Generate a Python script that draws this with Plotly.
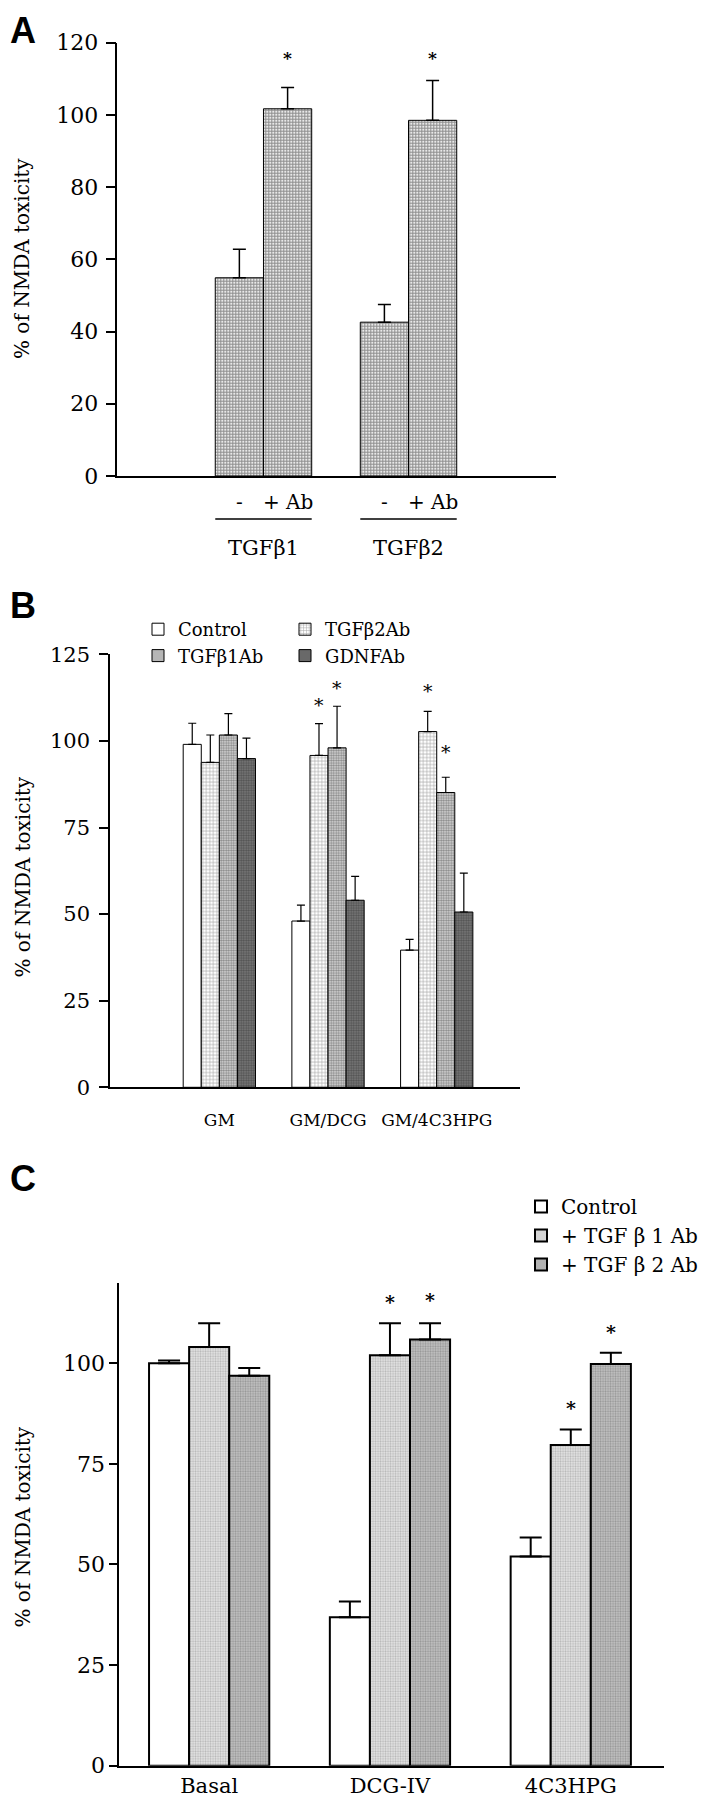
import plotly.graph_objects as go

# ---------------- data ----------------
# Panel A
a_groups = ["TGFβ1", "TGFβ2"]
a_series = ["-", "+ Ab"]
a_values = {"-": [54.9, 42.6], "+ Ab": [101.7, 98.5]}
a_errors = {"-": [7.9, 4.9], "+ Ab": [5.9, 11.0]}
a_stars = [("TGFβ1", "+ Ab", 117.0), ("TGFβ2", "+ Ab", 117.0)]
a_yticks = [0, 20, 40, 60, 80, 100, 120]

# Panel B
b_groups = ["GM", "GM/DCG", "GM/4C3HPG"]
b_series = ["Control", "TGFβ2Ab", "TGFβ1Ab", "GDNFAb"]
b_values = {
    "Control": [99.0, 48.0, 39.6],
    "TGFβ2Ab": [93.8, 95.8, 102.7],
    "TGFβ1Ab": [101.7, 98.0, 85.1],
    "GDNFAb": [94.9, 54.0, 50.6],
}
b_errors = {
    "Control": [6.1, 4.6, 3.1],
    "TGFβ2Ab": [7.9, 9.2, 5.8],
    "TGFβ1Ab": [6.2, 12.0, 4.4],
    "GDNFAb": [5.9, 6.9, 11.2],
}
b_stars = [("GM/DCG", "TGFβ2Ab", 111.8), ("GM/DCG", "TGFβ1Ab", 116.5),
           ("GM/4C3HPG", "TGFβ2Ab", 115.9), ("GM/4C3HPG", "TGFβ1Ab", 98.1)]
b_yticks = [0, 25, 50, 75, 100, 125]

# Panel C
c_groups = ["Basal", "DCG-IV", "4C3HPG"]
c_series = ["Control", "+ TGF β 1 Ab", "+ TGF β 2 Ab"]
c_values = {
    "Control": [100.0, 36.9, 52.0],
    "+ TGF β 1 Ab": [104.0, 102.0, 79.7],
    "+ TGF β 2 Ab": [96.9, 105.9, 99.8],
}
c_errors = {
    "Control": [0.7, 3.9, 4.7],
    "+ TGF β 1 Ab": [5.9, 7.9, 3.8],
    "+ TGF β 2 Ab": [1.9, 4.0, 2.8],
}
c_stars = [("DCG-IV", "+ TGF β 1 Ab", 116.5), ("DCG-IV", "+ TGF β 2 Ab", 117.0),
           ("4C3HPG", "+ TGF β 1 Ab", 90.0), ("4C3HPG", "+ TGF β 2 Ab", 109.0)]
c_yticks = [0, 25, 50, 75, 100]

# ---------------- style ----------------
OFF = 8                     # default page body margin
W, H = 712 - OFF, 1800 - OFF
SERIF = "DejaVu Serif"
SANS = "Liberation Sans, Arial"
BARGAP = 0.335


def px_x(p):
    return (p - OFF) / W


def px_y(p):
    return 1 - (p - OFF) / H


a_style = dict(color="#ffffff",
               pattern=dict(shape="+", size=3, solidity=0.6, fgcolor="#2e2e2e", bgcolor="#eeeeee"))
b_styles = {
    "Control": dict(color="#ffffff"),
    "TGFβ2Ab": dict(color="#ffffff", pattern=dict(shape="+", size=3.5, solidity=0.35, fgcolor="#555555", bgcolor="#ffffff")),
    "TGFβ1Ab": dict(color="#ffffff", pattern=dict(shape=".", size=2.5, solidity=0.5, fgcolor="#3a3a3a", bgcolor="#d8d8d8")),
    "GDNFAb": dict(color="#ffffff", pattern=dict(shape=".", size=2.5, solidity=0.5, fgcolor="#2a2a2a", bgcolor="#7a7a7a")),
}
b_groups_legend = {"Control": "b1", "TGFβ1Ab": "b1", "TGFβ2Ab": "b2", "GDNFAb": "b2"}
c_styles = {
    "Control": dict(color="#ffffff"),
    "+ TGF β 1 Ab": dict(color="#ffffff", pattern=dict(shape=".", size=2.5, solidity=0.45, fgcolor="#8a8a8a", bgcolor="#e6e6e6")),
    "+ TGF β 2 Ab": dict(color="#ffffff", pattern=dict(shape=".", size=2.5, solidity=0.45, fgcolor="#6a6a6a", bgcolor="#c4c4c4")),
}

fig = go.Figure()

# ---- Panel A bars
for s in a_series:
    fig.add_trace(go.Bar(
        x=a_groups, y=a_values[s], name=s, xaxis="x", yaxis="y", showlegend=False,
        marker=dict(line=dict(color="black", width=1), **a_style),
        error_y=dict(type="data", symmetric=False, array=a_errors[s], arrayminus=[0] * len(a_groups),
                     color="black", thickness=1.5, width=6.5),
    ))

# ---- Panel B bars
for s in b_series:
    fig.add_trace(go.Bar(
        x=b_groups, y=b_values[s], name=s, xaxis="x2", yaxis="y2", legend="legend",
        legendgroup=b_groups_legend[s],
        marker=dict(line=dict(color="black", width=1), **b_styles[s]),
        error_y=dict(type="data", symmetric=False, array=b_errors[s], arrayminus=[0] * len(b_groups),
                     color="black", thickness=1.2, width=4),
    ))

# ---- Panel C bars
for i, s in enumerate(c_series):
    fig.add_trace(go.Bar(
        x=c_groups, y=c_values[s], name=s, xaxis="x3", yaxis="y3", legend="legend2",
        legendgroup=f"c{i}",
        marker=dict(line=dict(color="black", width=2), **c_styles[s]),
        error_y=dict(type="data", symmetric=False, array=c_errors[s], arrayminus=[0] * len(c_groups),
                     color="black", thickness=2, width=11),
    ))

annotations = []
shapes = []


def bar_index(groups, series, g, s):
    n = len(series)
    return groups.index(g) + (series.index(s) - (n - 1) / 2) * (1 - BARGAP) / n


def add_stars(stars, groups, series, xref, yref, size, bold):
    for g, s, v in stars:
        annotations.append(dict(
            x=bar_index(groups, series, g, s), y=v, xref=xref, yref=yref,
            text="<b>*</b>" if bold else "*", showarrow=False,
            font=dict(family=SERIF, size=size, color="black"),
            xanchor="center", yanchor="middle", yshift=-0.25 * size,
        ))


add_stars(a_stars, a_groups, a_series, "x", "y", 17, True)
add_stars(b_stars, b_groups, b_series, "x2", "y2", 19, False)
add_stars(c_stars, c_groups, c_series, "x3", "y3", 19, True)

# Panel A sub-labels "-", "+ Ab" and underline per group
for g in a_groups:
    for s in a_series:
        annotations.append(dict(
            x=bar_index(a_groups, a_series, g, s), y=px_y(501.7), xref="x", yref="paper",
            text=s, showarrow=False, font=dict(family=SERIF, size=20, color="black"),
            xanchor="center", yanchor="middle",
        ))
    gi = a_groups.index(g)
    half = (1 - BARGAP) / 2
    shapes.append(dict(type="line", xref="x", yref="paper", x0=gi - half, x1=gi + half,
                       y0=px_y(519), y1=px_y(519), line=dict(color="black", width=1.5)))

# Axis titles
for xc, yc in [(22, 259), (22, 877.5), (22, 1527.5)]:
    annotations.append(dict(
        x=px_x(xc), y=px_y(yc), xref="paper", yref="paper", text="% of NMDA toxicity",
        textangle=-90, showarrow=False, font=dict(family=SERIF, size=20, color="black"),
        xanchor="center", yanchor="middle",
    ))

# Panel letters
annotations.append(dict(
    x=px_x(8), y=1, xref="paper", yref="paper", text="<b>A</b>",
    showarrow=False, font=dict(family=SANS, size=36, color="black"),
    xanchor="left", yanchor="top",
))
for letter, yc in [("B", 605), ("C", 1178)]:
    annotations.append(dict(
        x=px_x(8), y=px_y(yc), xref="paper", yref="paper", text=f"<b>{letter}</b>",
        showarrow=False, font=dict(family=SANS, size=36, color="black"),
        xanchor="left", yanchor="middle",
    ))


def make_y(dom, rng, ticks, ticklen, lw, standoff, size, anchor):
    return dict(domain=dom, range=rng, tickmode="array", tickvals=ticks, ticks="outside", ticklen=ticklen,
                tickwidth=lw, tickcolor="black", showline=True, linecolor="black", linewidth=lw,
                showgrid=False, zeroline=False, ticklabelstandoff=standoff,
                tickfont=dict(family=SERIF, size=size, color="black"), anchor=anchor, fixedrange=True)


def make_x(dom, rng, lw, standoff, size, anchor):
    return dict(domain=dom, range=rng, type="category", ticks="", showline=True, linecolor="black",
                linewidth=lw, showgrid=False, zeroline=False, ticklabelstandoff=standoff,
                tickfont=dict(family=SERIF, size=size, color="black"), anchor=anchor, fixedrange=True)


fig.update_layout(
    width=W, height=H, margin=dict(l=0, r=0, t=0, b=0, autoexpand=False),
    font=dict(family=SERIF, size=21, color="black"),
    paper_bgcolor="white", plot_bgcolor="white",
    barmode="group", bargap=BARGAP, bargroupgap=0,
    xaxis=make_x([px_x(117.3), px_x(556)], [-1.008, 2.017], 1.5, 52, 21, "y"),
    yaxis=make_y([px_y(476), px_y(42.7)], [0, 120], a_yticks, 10, 1.5, 3, 22, "x"),
    xaxis2=make_x([px_x(110), px_x(520.3)], [-1.006, 2.769], 1.5, 17, 17, "y2"),
    yaxis2=make_y([px_y(1087.3), px_y(654.3)], [0, 125], b_yticks, 9, 1.5, 5, 21, "x2"),
    xaxis3=make_x([px_x(119.3), px_x(663.7)], [-0.497, 2.514], 2, 0, 21, "y3"),
    yaxis3=make_y([px_y(1765.7), px_y(1282.7)], [0, 120], c_yticks, 8, 2, 0, 22, "x3"),
    legend=dict(orientation="h", x=px_x(138), y=px_y(611), xanchor="left", yanchor="top",
                traceorder="grouped", entrywidthmode="pixels", entrywidth=102,
                font=dict(family=SERIF, size=18, color="black"), bgcolor="rgba(0,0,0,0)"),
    legend2=dict(orientation="v", x=px_x(521), y=px_y(1187), xanchor="left", yanchor="top",
                 tracegroupgap=12, traceorder="normal",
                 font=dict(family=SERIF, size=20, color="black"), bgcolor="rgba(0,0,0,0)"),
    annotations=annotations, shapes=shapes, showlegend=True,
)

fig.write_html("out.html")
